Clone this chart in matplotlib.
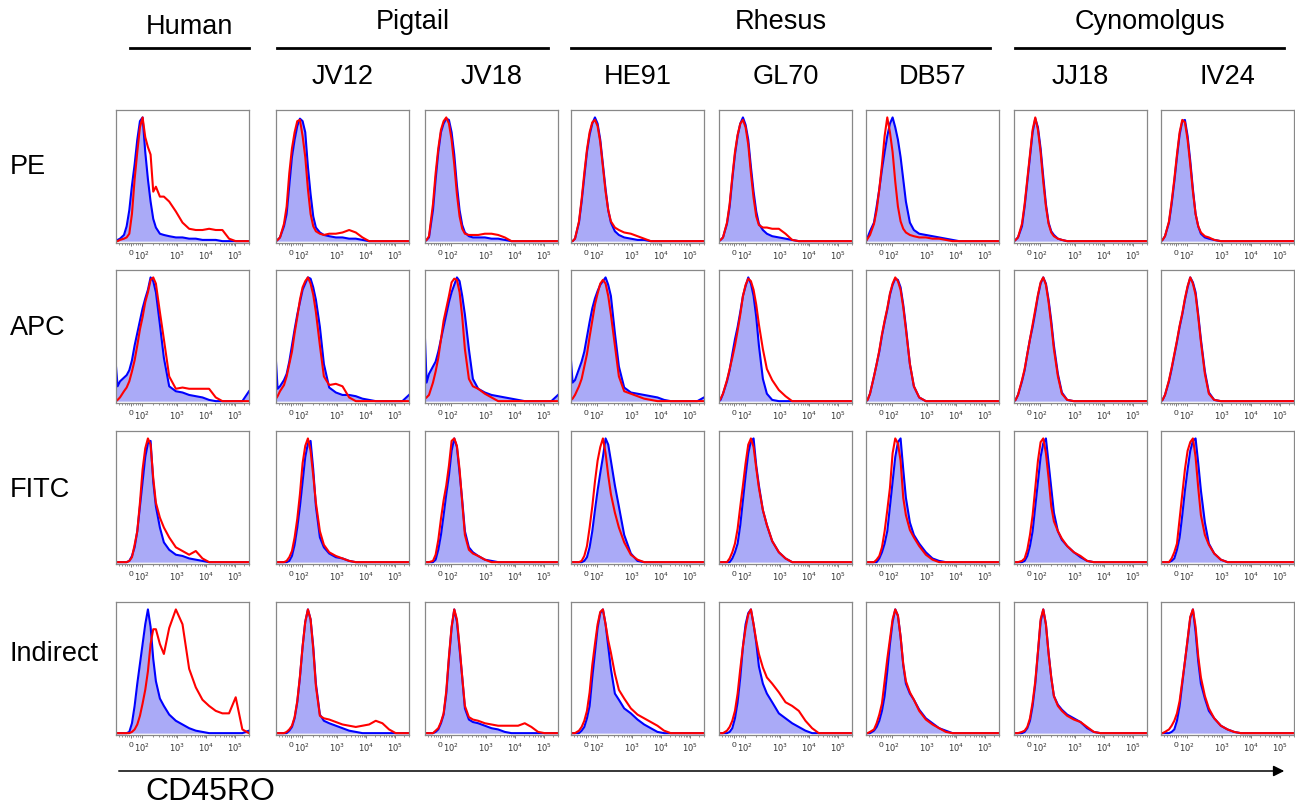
import matplotlib.pyplot as plt
import numpy as np
from matplotlib.lines import Line2D
from matplotlib.patches import FancyArrowPatch

plt.rcParams['font.family'] = ['Liberation Sans', 'DejaVu Sans']

# channel positions across each panel (0 = left edge, 1 = right edge)
X = [0, .012, .03, .06, .08, .10, .12, .14, .16, .18,
     .20, .22, .24, .26, .28, .30, .33, .36, .40, .45,
     .50, .55, .60, .65, .70, .75, .80, .85, .90, .95, 1.0]

COLUMNS = ['Human', 'JV12', 'JV18', 'HE91', 'GL70', 'DB57', 'JJ18', 'IV24']
GROUPS = ['Human', 'Pigtail', 'Rhesus', 'Cynomolgus']
ROWS = ['PE', 'APC', 'FITC', 'Indirect']
TICK_LABELS = ['0', '$10^2$', '$10^3$', '$10^4$', '$10^5$']

# blue = filled control, red = stained; % of mode, one list per column
PE_BLUE = [
    [0, 1, 2, 5, 12, 25, 45, 62, 82, 97, 100, 72, 50, 32, 18, 11, 6, 5, 4, 3, 3, 2, 2, 1, 1, 1, 0, 0, 0, 0, 0],
    [0, 1, 3, 12, 22, 45, 68, 82, 93, 99, 97, 88, 60, 38, 20, 11, 7, 5, 4, 3, 3, 2, 2, 1, 0, 0, 0, 0, 0, 0, 0],
    [0, 1, 3, 25, 50, 72, 88, 95, 99, 98, 88, 70, 45, 25, 13, 7, 4, 3, 3, 3, 2, 2, 1, 0, 0, 0, 0, 0, 0, 0, 0],
    [0, 0, 2, 15, 32, 52, 72, 86, 95, 100, 95, 82, 62, 42, 25, 15, 8, 5, 3, 2, 1, 1, 0, 0, 0, 0, 0, 0, 0, 0, 0],
    [0, 1, 3, 14, 28, 50, 70, 85, 95, 100, 94, 82, 60, 40, 24, 14, 9, 6, 4, 3, 2, 1, 0, 0, 0, 0, 0, 0, 0, 0, 0],
    [0, 3, 8, 15, 28, 42, 58, 72, 85, 95, 100, 92, 82, 68, 50, 32, 15, 9, 6, 5, 4, 3, 2, 1, 0, 0, 0, 0, 0, 0, 0],
    [0, 1, 3, 12, 28, 48, 68, 88, 99, 92, 75, 52, 30, 15, 8, 5, 2, 1, 0, 0, 0, 0, 0, 0, 0, 0, 0, 0, 0, 0, 0],
    [0, 1, 4, 15, 30, 48, 68, 86, 97, 98, 85, 65, 42, 22, 12, 6, 3, 2, 1, 0, 0, 0, 0, 0, 0, 0, 0, 0, 0, 0, 0],
]
PE_RED = [
    [0, 0, 1, 2, 3, 6, 22, 50, 72, 92, 100, 84, 76, 70, 40, 44, 36, 36, 32, 24, 15, 10, 9, 9, 10, 9, 9, 2, 0, 0, 0],
    [0, 1, 3, 14, 28, 55, 75, 88, 97, 98, 85, 68, 42, 22, 12, 8, 6, 5, 6, 6, 7, 9, 7, 3, 0, 0, 0, 0, 0, 0, 0],
    [0, 1, 4, 30, 55, 75, 90, 97, 100, 95, 82, 62, 38, 20, 10, 6, 5, 5, 5, 6, 6, 5, 3, 0, 0, 0, 0, 0, 0, 0, 0],
    [0, 0, 2, 16, 34, 55, 74, 88, 96, 98, 93, 80, 60, 40, 25, 16, 11, 9, 7, 6, 4, 2, 0, 0, 0, 0, 0, 0, 0, 0, 0],
    [0, 1, 3, 15, 30, 52, 72, 86, 95, 98, 92, 78, 55, 35, 20, 13, 11, 11, 10, 10, 6, 1, 0, 0, 0, 0, 0, 0, 0, 0, 0],
    [0, 2, 5, 14, 25, 42, 62, 85, 100, 88, 72, 48, 28, 16, 10, 7, 5, 4, 3, 3, 2, 2, 1, 0, 0, 0, 0, 0, 0, 0, 0],
    [0, 1, 3, 14, 30, 50, 70, 90, 100, 90, 72, 48, 28, 14, 7, 4, 2, 1, 0, 0, 0, 0, 0, 0, 0, 0, 0, 0, 0, 0, 0],
    [0, 1, 4, 16, 32, 50, 70, 88, 98, 96, 82, 62, 40, 22, 12, 7, 4, 3, 1, 0, 0, 0, 0, 0, 0, 0, 0, 0, 0, 0, 0],
]
APC_BLUE = [
    [28, 12, 16, 19, 21, 25, 33, 45, 55, 65, 75, 83, 90, 100, 97, 88, 62, 35, 12, 8, 7, 5, 4, 3, 1, 0, 0, 0, 0, 0, 8],
    [32, 10, 12, 17, 22, 32, 45, 58, 70, 80, 90, 95, 100, 99, 92, 82, 60, 30, 11, 7, 5, 5, 4, 2, 1, 0, 0, 0, 0, 0, 5],
    [50, 15, 22, 28, 32, 40, 50, 60, 70, 80, 88, 94, 100, 97, 85, 70, 42, 18, 10, 7, 5, 4, 3, 2, 1, 0, 0, 0, 0, 0, 5],
    [33, 15, 17, 26, 32, 40, 52, 64, 75, 83, 89, 94, 97, 100, 94, 85, 55, 28, 11, 7, 6, 5, 4, 3, 1, 0, 0, 0, 0, 0, 3],
    [0, 1, 6, 16, 25, 38, 50, 60, 72, 85, 93, 100, 95, 85, 68, 45, 18, 6, 1, 0, 0, 0, 0, 0, 0, 0, 0, 0, 0, 0, 0],
    [0, 1, 6, 20, 30, 40, 53, 64, 74, 86, 94, 99, 98, 92, 78, 60, 30, 12, 3, 0, 0, 0, 0, 0, 0, 0, 0, 0, 0, 0, 0],
    [0, 1, 5, 16, 25, 38, 50, 60, 72, 85, 95, 100, 95, 82, 65, 45, 22, 7, 1, 0, 0, 0, 0, 0, 0, 0, 0, 0, 0, 0, 0],
    [0, 1, 5, 16, 26, 37, 48, 60, 70, 82, 92, 100, 96, 88, 70, 50, 24, 7, 1, 0, 0, 0, 0, 0, 0, 0, 0, 0, 0, 0, 0],
]
APC_RED = [
    [0, 1, 3, 8, 11, 16, 24, 33, 45, 58, 68, 80, 88, 98, 100, 95, 72, 50, 20, 10, 11, 10, 10, 10, 10, 3, 0, 0, 0, 0, 0],
    [2, 4, 8, 13, 20, 30, 40, 55, 68, 82, 92, 97, 100, 95, 86, 72, 45, 20, 13, 14, 12, 3, 0, 0, 0, 0, 0, 0, 0, 0, 0],
    [2, 3, 5, 15, 24, 35, 50, 65, 75, 85, 96, 99, 98, 88, 68, 42, 18, 12, 10, 6, 3, 0, 0, 0, 0, 0, 0, 0, 0, 0, 0],
    [1, 2, 5, 12, 18, 28, 38, 52, 65, 78, 87, 95, 98, 95, 85, 70, 45, 20, 8, 6, 4, 2, 1, 0, 0, 0, 0, 0, 0, 0, 0],
    [0, 2, 6, 17, 26, 35, 45, 57, 70, 85, 94, 99, 97, 90, 78, 62, 42, 26, 17, 9, 4, 0, 0, 0, 0, 0, 0, 0, 0, 0, 0],
    [0, 1, 6, 20, 30, 41, 54, 65, 75, 87, 95, 100, 97, 90, 76, 58, 30, 12, 3, 0, 0, 0, 0, 0, 0, 0, 0, 0, 0, 0, 0],
    [0, 1, 5, 17, 26, 38, 50, 62, 74, 86, 96, 100, 94, 80, 62, 42, 20, 6, 1, 0, 0, 0, 0, 0, 0, 0, 0, 0, 0, 0, 0],
    [0, 1, 5, 17, 27, 38, 49, 61, 71, 83, 93, 100, 95, 86, 68, 48, 22, 6, 1, 0, 0, 0, 0, 0, 0, 0, 0, 0, 0, 0, 0],
]
FITC_BLUE = [
    [0, 0, 0, 0, 0, 1, 5, 12, 25, 45, 65, 85, 96, 98, 65, 45, 28, 16, 10, 6, 5, 3, 2, 1, 0, 0, 0, 0, 0, 0, 0],
    [0, 0, 0, 0, 0, 1, 5, 14, 28, 45, 65, 85, 96, 98, 75, 45, 20, 12, 7, 4, 3, 1, 0, 0, 0, 0, 0, 0, 0, 0, 0],
    [0, 0, 0, 0, 2, 10, 22, 38, 55, 70, 90, 100, 93, 72, 50, 25, 12, 8, 5, 2, 1, 0, 0, 0, 0, 0, 0, 0, 0, 0, 0],
    [0, 0, 0, 0, 0, 1, 4, 12, 25, 42, 58, 72, 85, 100, 95, 82, 62, 45, 22, 7, 1, 0, 0, 0, 0, 0, 0, 0, 0, 0, 0],
    [0, 0, 0, 0, 0, 3, 8, 15, 30, 50, 70, 88, 98, 100, 78, 62, 42, 30, 17, 8, 3, 0, 0, 0, 0, 0, 0, 0, 0, 0, 0],
    [0, 0, 0, 0, 0, 3, 8, 15, 25, 45, 65, 85, 97, 100, 75, 52, 32, 22, 15, 8, 3, 1, 0, 0, 0, 0, 0, 0, 0, 0, 0],
    [0, 0, 0, 0, 1, 5, 13, 25, 45, 65, 85, 96, 100, 80, 60, 40, 25, 18, 13, 8, 4, 1, 0, 0, 0, 0, 0, 0, 0, 0, 0],
    [0, 0, 0, 0, 1, 3, 10, 20, 38, 58, 75, 90, 98, 100, 80, 58, 32, 15, 7, 2, 0, 0, 0, 0, 0, 0, 0, 0, 0, 0, 0],
]
FITC_RED = [
    [0, 0, 0, 0, 0, 1, 4, 14, 25, 48, 75, 92, 100, 95, 68, 48, 36, 28, 20, 12, 9, 6, 9, 3, 0, 0, 0, 0, 0, 0, 0],
    [0, 0, 0, 0, 1, 4, 9, 20, 35, 55, 80, 94, 100, 90, 70, 48, 25, 14, 8, 5, 3, 1, 0, 0, 0, 0, 0, 0, 0, 0, 0],
    [0, 0, 0, 1, 6, 18, 35, 50, 62, 78, 98, 100, 94, 75, 48, 22, 10, 7, 5, 2, 0, 0, 0, 0, 0, 0, 0, 0, 0, 0, 0],
    [0, 0, 0, 0, 1, 5, 13, 28, 45, 65, 82, 93, 100, 88, 70, 55, 40, 28, 16, 6, 2, 0, 0, 0, 0, 0, 0, 0, 0, 0, 0],
    [0, 0, 0, 0, 3, 8, 15, 27, 45, 62, 80, 95, 100, 93, 76, 60, 42, 30, 17, 8, 3, 0, 0, 0, 0, 0, 0, 0, 0, 0, 0],
    [0, 0, 0, 0, 2, 5, 12, 25, 42, 60, 88, 100, 96, 82, 52, 38, 26, 20, 13, 6, 2, 0, 0, 0, 0, 0, 0, 0, 0, 0, 0],
    [0, 0, 0, 1, 3, 10, 22, 38, 60, 82, 97, 100, 88, 68, 45, 33, 25, 19, 13, 8, 5, 1, 0, 0, 0, 0, 0, 0, 0, 0, 0],
    [0, 0, 0, 0, 3, 8, 15, 35, 55, 75, 90, 97, 100, 85, 60, 38, 22, 14, 7, 2, 0, 0, 0, 0, 0, 0, 0, 0, 0, 0, 0],
]
IND_BLUE = [
    [0, 0, 0, 0, 0, 1, 8, 22, 40, 56, 72, 88, 100, 86, 60, 42, 28, 22, 15, 10, 7, 4, 2, 1, 0, 0, 0, 0, 0, 0, 2],
    [0, 0, 0, 0, 0, 2, 5, 12, 25, 45, 70, 90, 100, 92, 70, 40, 15, 10, 8, 6, 4, 2, 1, 0, 0, 0, 0, 0, 0, 0, 0],
    [0, 0, 0, 0, 1, 3, 8, 15, 32, 60, 85, 100, 90, 68, 45, 20, 11, 9, 8, 6, 4, 3, 1, 0, 0, 0, 0, 0, 0, 0, 0],
    [0, 0, 0, 0, 2, 5, 12, 22, 45, 65, 85, 97, 100, 88, 70, 52, 32, 27, 20, 16, 11, 7, 4, 1, 0, 0, 0, 0, 0, 0, 0],
    [0, 0, 0, 0, 1, 4, 12, 25, 45, 70, 88, 97, 100, 88, 73, 54, 40, 32, 25, 16, 12, 8, 5, 2, 0, 0, 0, 0, 0, 0, 0],
    [0, 0, 0, 2, 5, 10, 18, 30, 50, 72, 90, 100, 95, 78, 55, 40, 32, 27, 19, 12, 8, 4, 2, 0, 0, 0, 0, 0, 0, 0, 0],
    [0, 0, 0, 0, 1, 4, 10, 22, 40, 65, 90, 100, 88, 65, 45, 30, 23, 19, 15, 12, 9, 4, 1, 0, 0, 0, 0, 0, 0, 0, 0],
    [0, 0, 0, 0, 1, 3, 10, 22, 40, 58, 75, 93, 100, 82, 58, 40, 28, 18, 12, 6, 3, 1, 0, 0, 0, 0, 0, 0, 0, 0, 0],
]
IND_RED = [
    [0, 0, 0, 0, 0, 0, 1, 3, 7, 14, 24, 35, 50, 72, 84, 84, 72, 64, 85, 100, 88, 52, 37, 27, 22, 18, 16, 16, 29, 3, 0],
    [0, 0, 0, 0, 1, 3, 6, 13, 26, 46, 70, 90, 100, 92, 68, 38, 14, 12, 11, 9, 7, 6, 5, 6, 7, 10, 8, 3, 0, 0, 0],
    [0, 0, 0, 0, 2, 4, 9, 16, 34, 62, 86, 100, 92, 70, 45, 22, 13, 11, 10, 8, 7, 6, 6, 6, 6, 8, 5, 1, 0, 0, 0],
    [0, 0, 0, 2, 5, 10, 18, 33, 55, 72, 88, 98, 100, 88, 75, 65, 48, 35, 28, 20, 15, 12, 9, 6, 2, 0, 0, 0, 0, 0, 0],
    [0, 0, 0, 2, 5, 10, 18, 32, 52, 70, 85, 96, 100, 88, 75, 64, 53, 45, 40, 33, 25, 22, 18, 10, 4, 0, 0, 0, 0, 0, 0],
    [0, 0, 1, 3, 8, 15, 24, 42, 60, 76, 92, 100, 95, 78, 56, 42, 33, 27, 18, 11, 7, 4, 1, 0, 0, 0, 0, 0, 0, 0, 0],
    [0, 0, 0, 1, 2, 5, 12, 25, 42, 66, 92, 100, 88, 64, 45, 30, 22, 18, 14, 11, 9, 5, 1, 0, 0, 0, 0, 0, 0, 0, 0],
    [0, 0, 1, 3, 6, 10, 16, 26, 42, 58, 76, 94, 100, 86, 62, 45, 30, 20, 12, 6, 3, 1, 0, 0, 0, 0, 0, 0, 0, 0, 0],
]

BLUE_ROWS = [PE_BLUE, APC_BLUE, FITC_BLUE, IND_BLUE]
RED_ROWS = [PE_RED, APC_RED, FITC_RED, IND_RED]

W, H = 1295, 806
fig = plt.figure(figsize=(W / 100, H / 100), dpi=100)


def fx(x):
    return x / W


def fy(y):
    return 1 - y / H


col_left = [116, 276, 425, 571, 719, 866, 1014, 1161]
row_top = [110, 270, 431, 602]
size = 133

# biexponential-looking axis: where 0, 1e2 .. 1e5 fall across the panel
tick_pos = [0.11, 0.195, 0.46, 0.68, 0.895]
minor = [0.02, 0.045, 0.065, 0.08, 0.095, 0.13, 0.15, 0.165, 0.18]
for d in range(3):
    for k in range(2, 10):
        minor.append(tick_pos[1 + d] + np.log10(k) * (tick_pos[2 + d] - tick_pos[1 + d]))
for k in range(2, 4):
    minor.append(tick_pos[4] + np.log10(k) * 0.215)

for r in range(4):
    for c in range(8):
        blue = BLUE_ROWS[r][c]
        red = RED_ROWS[r][c]
        assert len(blue) == len(X) and len(red) == len(X), (r, c)
        ax = fig.add_axes([fx(col_left[c]), fy(row_top[r] + size), fx(size), size / H])
        ax.fill_between(X, blue, 0, color='#aaaaf7', lw=0)
        ax.plot(X, blue, color='#0000ff', lw=1.5)
        ax.plot(X, red, color='#ff0000', lw=1.5)
        ax.set_xlim(0, 1)
        ax.set_ylim(-1.5, 106)
        ax.set_yticks([])
        ax.set_xticks(tick_pos)
        ax.set_xticklabels(TICK_LABELS, fontsize=6, color='#333333')
        ax.set_xticks(minor, minor=True)
        ax.tick_params(axis='x', which='major', length=2.5, width=0.6, color='#666666', pad=2.5)
        ax.tick_params(axis='x', which='minor', length=1.5, width=0.5, color='#666666')
        for s in ax.spines.values():
            s.set_color('#888888')
            s.set_linewidth(0.9)

# column headers
group_span = [(130, 249), (277, 548), (571, 990), (1015, 1284)]
group_y = [27, 22, 22, 22]
for name, (a, b), y in zip(GROUPS, group_span, group_y):
    fig.text(fx((a + b) / 2), fy(y), name, fontsize=19.5, ha='center', va='center')
    fig.add_artist(Line2D([fx(a), fx(b)], [fy(48), fy(48)], color='black', lw=2))

for c in range(1, 8):
    fig.text(fx(col_left[c] + size / 2), fy(77), COLUMNS[c], fontsize=19.5, ha='center', va='center')

row_label_y = [167, 328, 490, 654]
for name, y in zip(ROWS, row_label_y):
    fig.text(fx(10), fy(y), name, fontsize=19.5, ha='left', va='center')

fig.add_artist(FancyArrowPatch((fx(116), fy(771)), (fx(1287), fy(771)),
                               transform=fig.transFigure, arrowstyle='-|>',
                               mutation_scale=16, lw=1.1, color='black'))
fig.text(fx(145), fy(792), 'CD45RO', fontsize=23, ha='left', va='center')

fig.savefig('out.png', dpi=100)
